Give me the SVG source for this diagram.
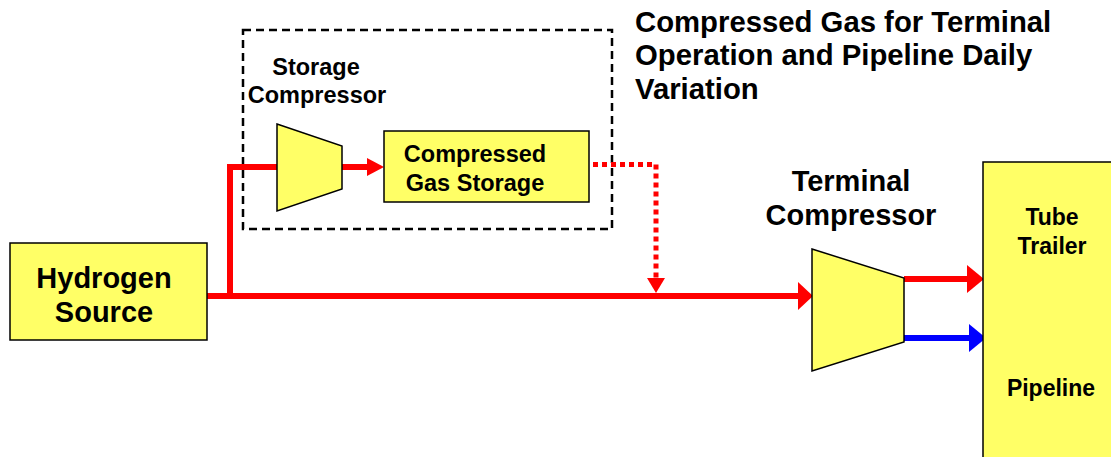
<svg xmlns="http://www.w3.org/2000/svg" width="1111" height="457" viewBox="0 0 1111 457">
  <style>
    .box { fill: #FFFF66; stroke: #000; stroke-width: 1.5; }
    .lbl { font-family: "Liberation Sans", Arial, sans-serif; font-weight: bold; fill: #000; }
    .flow { fill: none; stroke: #FF0000; stroke-width: 6; }
    .blue { fill: none; stroke: #0000FF; stroke-width: 6; }
    .dot { fill: none; stroke: #FF0000; stroke-width: 5; stroke-dasharray: 5 4; }
    .headR { fill: #FF0000; }
    .headB { fill: #0000FF; }
  </style>
  <rect width="1111" height="457" fill="#fff"/>

  <!-- storage subsystem boundary -->
  <g id="storage-boundary">
    <rect x="243" y="30" width="369" height="199" fill="none" stroke="#000" stroke-width="2.5" stroke-dasharray="8 5"/>
  </g>

  <!-- flow lines -->
  <g id="connectors">
    <path class="flow" d="M207,296 H799"/>
    <path class="flow" d="M230,296 V167 H278" stroke-linejoin="miter"/>
    <polygon class="headR" points="798,282 813,296 798,310"/>
    <path class="flow" d="M342,167 H368" stroke-width="5"/>
    <polygon class="headR" points="367,158 384,167 367,176"/>
    <path class="dot" d="M593,164.5 H656 V279"/>
    <polygon class="headR" points="647,278 665,278 656,293"/>
    <path class="flow" d="M904,279 H968"/>
    <polygon class="headR" points="967,265 984,279 967,293"/>
    <path class="blue" d="M904,338 H970"/>
    <polygon class="headB" points="969,324 986,338 969,352"/>
  </g>

  <g id="hydrogen-source">
    <rect class="box" x="10" y="243" width="197" height="97"/>
    <text class="lbl" font-size="29" text-anchor="middle" x="104" y="288">Hydrogen</text>
    <text class="lbl" font-size="29" text-anchor="middle" x="104" y="322">Source</text>
  </g>

  <g id="storage-compressor">
    <polygon class="box" points="277,124 342,146 342,189 277,211"/>
    <text class="lbl" font-size="23.5" text-anchor="middle" x="316" y="75">Storage</text>
    <text class="lbl" font-size="23.5" text-anchor="middle" x="317" y="103">Compressor</text>
  </g>

  <g id="gas-storage">
    <rect class="box" x="384" y="131" width="205" height="71"/>
    <text class="lbl" font-size="23.5" text-anchor="middle" x="475" y="162">Compressed</text>
    <text class="lbl" font-size="23.5" text-anchor="middle" x="475" y="191">Gas Storage</text>
  </g>

  <g id="terminal-compressor">
    <polygon class="box" points="812,249 904,278 904,342 812,371"/>
    <text class="lbl" font-size="29" text-anchor="middle" x="851" y="191">Terminal</text>
    <text class="lbl" font-size="29" text-anchor="middle" x="851" y="225">Compressor</text>
  </g>

  <g id="delivery">
    <rect class="box" x="983" y="162" width="140" height="310"/>
    <text class="lbl" font-size="23" text-anchor="middle" x="1052" y="225">Tube</text>
    <text class="lbl" font-size="23" text-anchor="middle" x="1052" y="254">Trailer</text>
    <text class="lbl" font-size="23" text-anchor="middle" x="1051" y="396">Pipeline</text>
  </g>

  <g id="note">
    <text class="lbl" font-size="29.3" x="635" y="32">Compressed Gas for Terminal</text>
    <text class="lbl" font-size="29.3" x="635" y="65">Operation and Pipeline Daily</text>
    <text class="lbl" font-size="29.3" x="635" y="99">Variation</text>
  </g>
</svg>
